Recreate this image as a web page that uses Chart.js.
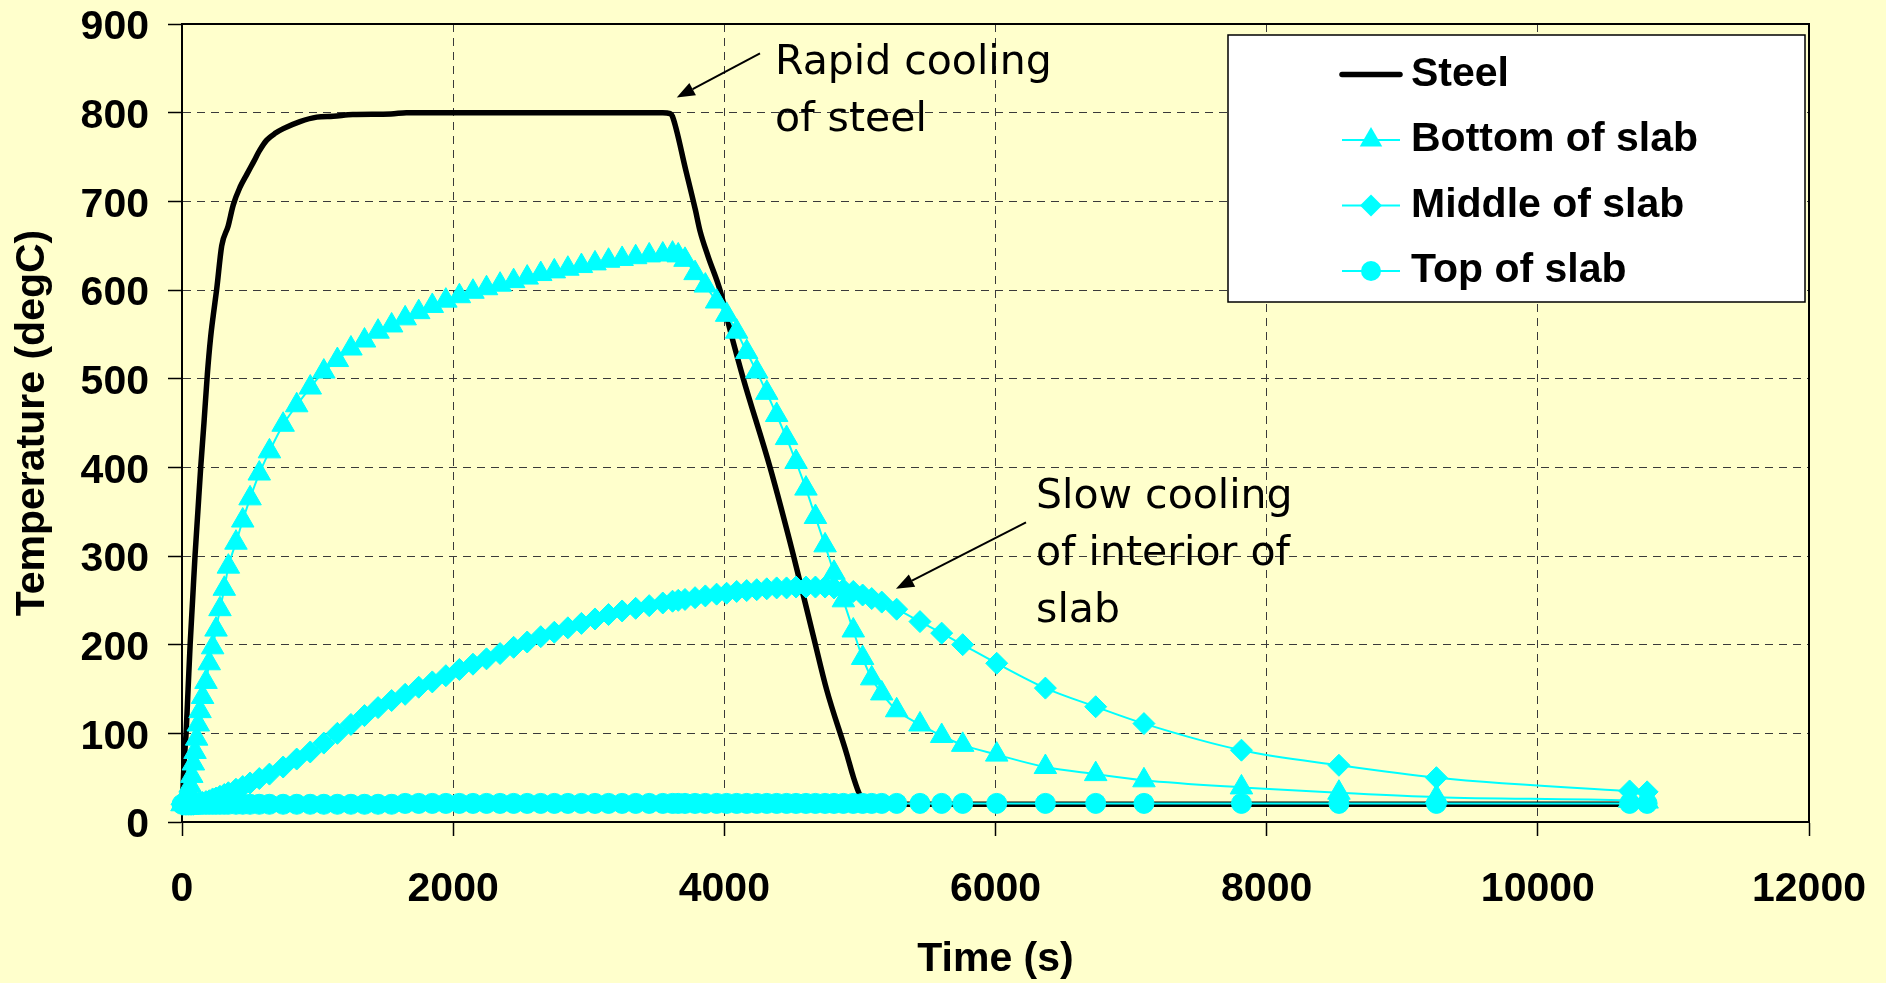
<!DOCTYPE html>
<html>
<head>
<meta charset="utf-8">
<script src="https://cdn.jsdelivr.net/npm/chart.js@4.4.0/dist/chart.umd.min.js"></script>
<style>
html,body{margin:0;padding:0;background:#FFFFCC;}
canvas{display:block;}
</style>
</head>
<body>
<canvas id="c" width="1886" height="983"></canvas>
<script>
// ---------- DATA ----------
const seriesNames = ['Steel', 'Bottom of slab', 'Middle of slab', 'Top of slab'];

const steelTime = [0, 8, 15, 30, 45, 60, 78, 96, 117, 138, 162, 187, 210, 231, 256, 293, 340, 378, 428, 480, 526, 575, 625, 690, 747, 870, 994, 1116, 1260, 1541, 1655, 3546, 3600, 3617, 3716, 3787, 3820, 3880, 3968, 4042, 4140, 4337, 4509, 4656, 4755, 4902, 4951, 5001, 5050, 5200, 10806];
const steelTemp = [20, 40, 66, 100, 150, 200, 250, 300, 350, 400, 450, 505, 545, 572, 601, 650, 672, 696, 716, 731, 744, 758, 769, 777, 782, 790, 795, 796, 798, 798.5, 800, 800, 799, 796, 735, 690, 667, 638, 600, 555, 500, 400, 301, 210, 149, 77, 51, 30, 22, 20, 20];

const slabTime = [0, 12, 24, 36, 48, 60, 72, 84, 96, 108,
  120, 133, 152, 177, 201, 226, 251, 280, 312, 342,
  398, 448, 502, 570, 645, 746, 846, 946, 1046, 1146,
  1246, 1346, 1446, 1546, 1646, 1746, 1846, 1946, 2046, 2146,
  2246, 2346, 2446, 2546, 2646, 2746, 2846, 2946, 3046, 3146,
  3246, 3346, 3446, 3546, 3618, 3660, 3710, 3784, 3860, 3943,
  4017, 4091, 4165, 4239, 4313, 4386, 4459, 4529, 4602, 4672,
  4743, 4809, 4878, 4951, 5020, 5087, 5161, 5271, 5443, 5603,
  5758, 6009, 6368, 6739, 7095, 7814, 8533, 9252, 10677, 10806];

const bottomTemp = [20, 23, 27, 31, 35, 41, 52, 66, 79, 94,
  110, 125, 141, 158, 179, 197, 217, 240, 263, 288,
  315, 340, 365, 393, 418, 448, 470, 490, 508, 521,
  534, 543, 553, 560, 568, 575, 582, 588, 593, 598,
  602, 606, 610, 614, 618, 621, 624, 627, 630, 633,
  635, 637, 639, 640, 641, 639, 634, 619, 605, 587,
  572, 553, 530, 508, 484, 459, 433, 406, 376, 344,
  312, 281, 250, 216, 185, 162, 145, 126, 110, 97,
  87, 76, 62, 54, 47, 39, 33, 28, 24, 23];

const middleTemp = [20, 20, 20, 20, 20, 20, 20, 20, 21, 21,
  21, 22, 22, 23, 24, 26, 27, 29, 31, 33,
  37, 40, 44, 49, 54, 62, 71, 79, 89, 100,
  110, 120, 129, 137, 144, 152, 158, 165, 172, 178,
  184, 190, 197, 203, 209, 214, 219, 224, 229, 234,
  238, 241, 244, 247, 249, 250, 251, 253, 255, 257,
  258, 260, 261, 262, 263, 264, 264, 265, 265, 265,
  265, 264, 262, 260, 256, 252, 248, 240, 226, 213,
  200, 179, 151, 130, 111, 81, 64, 50, 35, 34];

const topTemp = [20, 20, 20, 20, 20, 20, 20, 20, 20, 20,
  20, 20, 20, 20, 20, 20, 20, 20, 20, 20,
  20, 20, 20, 20, 20, 20, 20, 20, 20, 20,
  20, 20, 20, 20, 21, 21, 21, 21, 21, 21,
  21, 21, 21, 21, 21, 21, 21, 21, 21, 21,
  21, 21, 21, 21, 21, 21, 21, 21, 21, 21,
  21, 21, 21, 21, 21, 21, 21, 21, 21, 21,
  21, 21, 21, 21, 21, 21, 21, 21, 21, 21,
  21, 21, 21, 21, 21, 21, 21, 21, 21, 21];

const xTicks = [0, 2000, 4000, 6000, 8000, 10000, 12000];
const yTicks = [0, 100, 200, 300, 400, 500, 600, 700, 800, 900];

const xTitle = 'Time (s)';
const yTitle = 'Temperature (degC)';

// annotation texts anchored in data units (time, temperature)
const noteLines1 = ['Rapid cooling', 'of steel'];
const noteLines2 = ['Slow cooling', 'of interior of', 'slab'];
const noteAnchor1 = [4374, 844];
const noteAnchor2 = [6299, 354];
const arrow1 = [[4263, 867], [3649, 817]];
const arrow2 = [[6225, 338], [5266, 263]];

// ---------- STYLE ----------
const CYAN = '#00FFFF';
const BOLD = '"Liberation Sans", Arial, sans-serif';
const NOTE_FONT = '41px "DejaVu Sans", Verdana, sans-serif';

function pairs(xs, ys) { return xs.map((x, i) => ({x: x, y: ys[i]})); }

const markerStyles = [null, 'triangle', 'rectRot', 'circle'];
const markerRadius = [0, 13, 11, 10];

function drawMarker(ctx, style, x, y, r) {
  ctx.beginPath();
  if (style === 'triangle') {
    ctx.moveTo(x, y - r);
    ctx.lineTo(x + 0.866 * r, y + 0.5 * r);
    ctx.lineTo(x - 0.866 * r, y + 0.5 * r);
    ctx.closePath();
  } else if (style === 'rectRot') {
    ctx.moveTo(x, y - r); ctx.lineTo(x + r, y); ctx.lineTo(x, y + r); ctx.lineTo(x - r, y);
    ctx.closePath();
  } else {
    ctx.arc(x, y, r, 0, Math.PI * 2);
  }
  ctx.fill();
}

function drawArrow(ctx, chart, seg) {
  const sx = chart.scales.x, sy = chart.scales.y;
  const x1 = sx.getPixelForValue(seg[0][0]), y1 = sy.getPixelForValue(seg[0][1]);
  const x2 = sx.getPixelForValue(seg[1][0]), y2 = sy.getPixelForValue(seg[1][1]);
  const ang = Math.atan2(y2 - y1, x2 - x1);
  const hl = 18, hw = 7;
  const bx = x2 - hl * Math.cos(ang), by = y2 - hl * Math.sin(ang);
  ctx.strokeStyle = '#000'; ctx.lineWidth = 2;
  ctx.beginPath(); ctx.moveTo(x1, y1); ctx.lineTo(bx, by); ctx.stroke();
  ctx.fillStyle = '#000';
  ctx.beginPath();
  ctx.moveTo(x2, y2);
  ctx.lineTo(bx + hw * Math.sin(ang), by - hw * Math.cos(ang));
  ctx.lineTo(bx - hw * Math.sin(ang), by + hw * Math.cos(ang));
  ctx.closePath(); ctx.fill();
}

function drawNote(ctx, chart, lines, anchor) {
  const x = chart.scales.x.getPixelForValue(anchor[0]);
  const y = chart.scales.y.getPixelForValue(anchor[1]);
  ctx.font = NOTE_FONT; ctx.fillStyle = '#000';
  ctx.textAlign = 'left'; ctx.textBaseline = 'alphabetic';
  lines.forEach((t, i) => ctx.fillText(t, x, y + i * 57));
}

const decoPlugin = {
  id: 'deco',
  beforeDraw(chart) {
    const ctx = chart.ctx;
    ctx.save(); ctx.fillStyle = '#FFFFCC'; ctx.fillRect(0, 0, chart.width, chart.height); ctx.restore();
  },
  beforeDatasetsDraw(chart) {
    const a = chart.chartArea, ctx = chart.ctx;
    ctx.save(); ctx.strokeStyle = '#000'; ctx.lineWidth = 2;
    ctx.strokeRect(a.left, a.top, a.right - a.left, a.bottom - a.top);
    ctx.restore();
  },
  afterDatasetsDraw(chart) {
    const a = chart.chartArea, ctx = chart.ctx;
    ctx.save();
    // legend box
    const bw = 577, bh = 267;
    const bx = a.right - 4 - bw, by = a.top + 11;
    ctx.fillStyle = '#FFFFFF'; ctx.fillRect(bx, by, bw, bh);
    ctx.strokeStyle = '#000'; ctx.lineWidth = 1.5; ctx.strokeRect(bx, by, bw, bh);
    chart.data.datasets.forEach((ds, i) => {
      const ry = by + 39.5 + i * 65.5;
      ctx.strokeStyle = ds.borderColor; ctx.lineWidth = i === 0 ? 5.5 : 2;
      ctx.lineCap = i === 0 ? 'round' : 'butt';
      ctx.beginPath(); ctx.moveTo(bx + 114, ry); ctx.lineTo(bx + 172, ry); ctx.stroke();
      if (markerStyles[i]) { ctx.fillStyle = CYAN; drawMarker(ctx, markerStyles[i], bx + 143, ry, markerRadius[i]); }
      ctx.fillStyle = '#000'; ctx.font = 'bold 41px ' + BOLD;
      ctx.textAlign = 'left'; ctx.textBaseline = 'middle';
      ctx.fillText(ds.label, bx + 183, ry);
    });
    // annotations
    drawNote(ctx, chart, noteLines1, noteAnchor1);
    drawNote(ctx, chart, noteLines2, noteAnchor2);
    drawArrow(ctx, chart, arrow1);
    drawArrow(ctx, chart, arrow2);
    ctx.restore();
  }
};

function slabSet(i, ys, order) {
  return {
    label: seriesNames[i], data: pairs(slabTime, ys),
    borderColor: CYAN, backgroundColor: CYAN, borderWidth: 2,
    pointStyle: markerStyles[i], pointRadius: markerRadius[i], pointHoverRadius: markerRadius[i],
    pointBackgroundColor: CYAN, pointBorderColor: CYAN, pointBorderWidth: 1,
    showLine: true, fill: false, cubicInterpolationMode: 'monotone', clip: false, order: order
  };
}

function zeroPad(s) { s.paddingLeft = 0; s.paddingRight = 0; s.paddingTop = 0; s.paddingBottom = 0; }

const gridOpts = { color: '#3a3a3a', lineWidth: 1, drawTicks: true, tickLength: 14, tickColor: '#000', tickWidth: 1.5, tickBorderDash: [] };
const borderOpts = { display: true, color: '#000', width: 2, dash: [8, 6] };
const tickFont = { family: BOLD, size: 41, weight: 'bold', lineHeight: 1 };
const titleFont = { family: BOLD, size: 41, weight: 'bold', lineHeight: 1.1 };

new Chart(document.getElementById('c'), {
  type: 'scatter',
  data: {
    datasets: [
      { label: seriesNames[0], data: pairs(steelTime, steelTemp), borderColor: '#000', backgroundColor: '#000',
        borderWidth: 5.5, pointRadius: 0, pointHoverRadius: 0, showLine: true, fill: false,
        cubicInterpolationMode: 'monotone', clip: false, order: 4 },
      slabSet(1, bottomTemp, 3),
      slabSet(2, middleTemp, 2),
      slabSet(3, topTemp, 1)
    ]
  },
  options: {
    responsive: false, animation: false, devicePixelRatio: 1,
    layout: { padding: { top: 24, right: 77, bottom: 0, left: 0 } },
    plugins: { legend: { display: false }, tooltip: { enabled: false } },
    scales: {
      x: {
        type: 'linear', position: 'bottom', min: 0, max: 12000,
        afterBuildTicks: s => { s.ticks = xTicks.map(v => ({ value: v })); },
        afterFit: s => { s.height = 161; zeroPad(s); },
        grid: gridOpts, border: borderOpts,
        ticks: { color: '#000', font: tickFont, padding: 33, maxRotation: 0, autoSkip: false, callback: v => String(v) },
        title: { display: true, text: xTitle, color: '#000', font: titleFont, padding: { top: 0, bottom: 1 } }
      },
      y: {
        type: 'linear', position: 'left', min: 0, max: 900,
        afterBuildTicks: s => { s.ticks = yTicks.map(v => ({ value: v })); },
        afterFit: s => { s.width = 182; zeroPad(s); },
        grid: gridOpts, border: borderOpts,
        ticks: { color: '#000', font: tickFont, padding: 19, labelOffset: 4, autoSkip: false, callback: v => String(v) },
        title: { display: true, text: yTitle, color: '#000', font: titleFont, padding: { top: 10, bottom: 0 } }
      }
    }
  },
  plugins: [decoPlugin]
});
</script>
</body>
</html>
